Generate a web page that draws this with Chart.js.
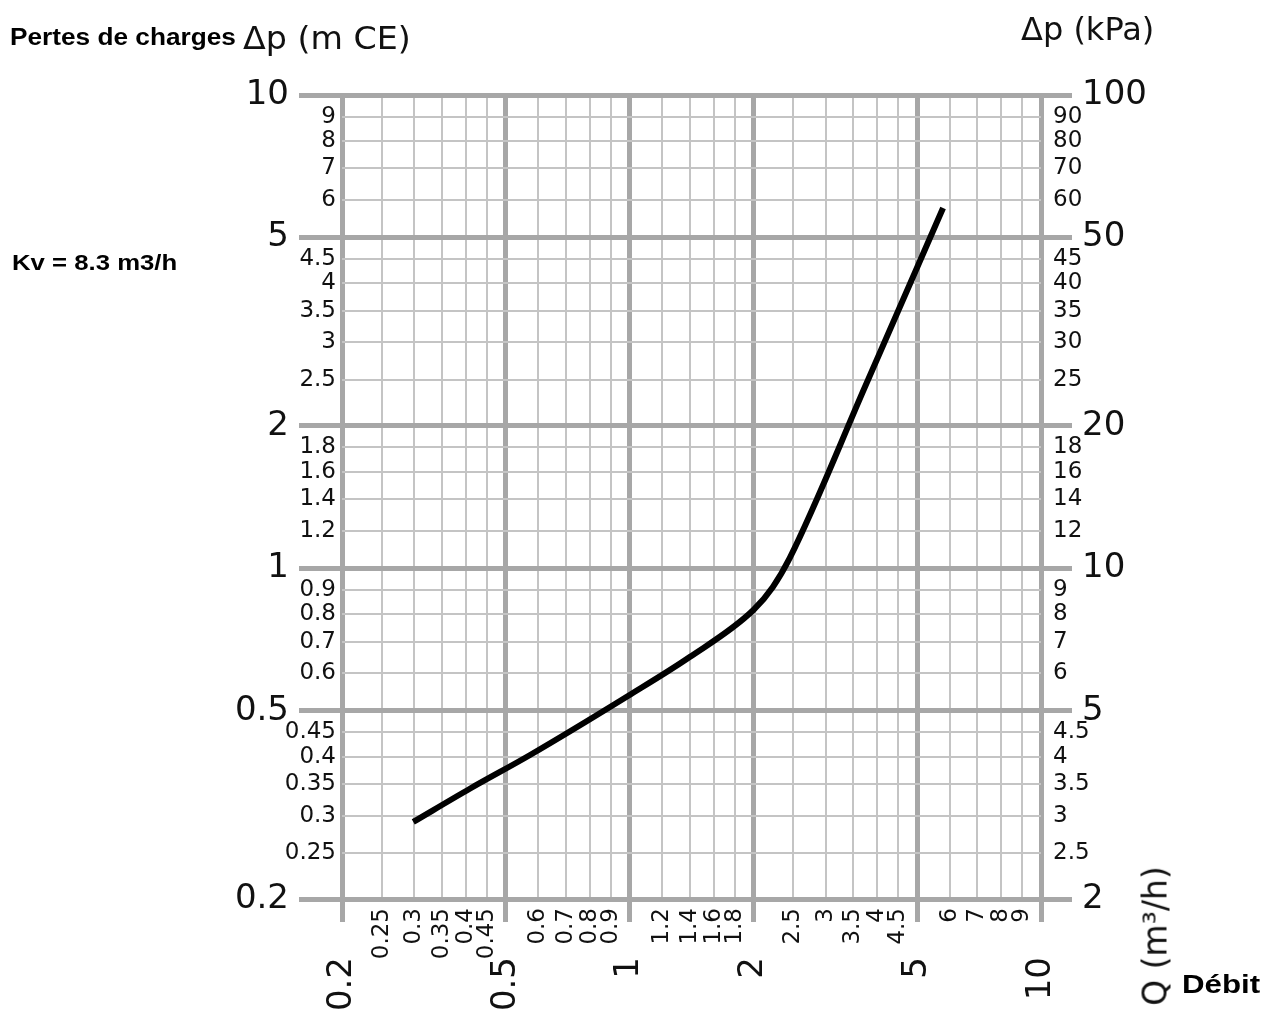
<!DOCTYPE html>
<html lang="fr">
<head>
<meta charset="utf-8">
<title>Pertes de charges - Kv 8.3</title>
<script src="https://cdn.jsdelivr.net/npm/chart.js@4.4.1/dist/chart.umd.min.js"></script>
<style>
    html, body { margin: 0; padding: 0; background: #fff; }
    #cadre { position: relative; width: 1264px; height: 1012px; overflow: hidden; }
    #abaque { position: absolute; left: 0; top: 0; }
    .txt { position: absolute; white-space: nowrap; color: #111; line-height: 1; transform-origin: 0 0; }
    .gras { font-family: "Liberation Sans", Arial, sans-serif; font-weight: bold; color: #000; }
    .geo { font-family: "DejaVu Sans", sans-serif; }
</style>
</head>
<body>
<div id="cadre">
    <canvas id="abaque" width="1264" height="1012"></canvas>
    <div class="txt gras" style="left:10px; top:26px; font-size:23px; transform:scaleX(1.14);">Pertes de charges</div>
    <div class="txt geo" style="left:243px; top:22px; font-size:32px; transform:scaleX(1.04);">Δp (m CE)</div>
    <div class="txt geo" style="left:1021px; top:13px; font-size:32px; transform:scaleX(1.0);">Δp (kPa)</div>
    <div class="txt gras" style="left:12px; top:252px; font-size:22px; transform:scaleX(1.17);">Kv = 8.3 m3/h</div>
    <div class="txt geo" style="left:1155px; top:936px; font-size:33px; transform:translate(-50%, -50%) rotate(-90deg); transform-origin:50% 50%;">Q (m³/h)</div>
    <div class="txt gras" style="left:1182px; top:972px; font-size:25px; transform:scaleX(1.25);">Débit</div>
</div>

<script>
const debit = [0.298, 0.409, 0.573, 0.991, 1.40, 2.00, 2.23, 2.45, 3.76, 5.78];
const perteCharge = [0.291, 0.342, 0.403, 0.537, 0.649, 0.816, 0.913, 1.05, 2.45, 5.77];

// Graduations des axes Q et Δp (m CE) : majeures = gros traits et grands chiffres
const gradMajeures = [0.2, 0.5, 1, 2, 5, 10];
const gradMineures = [0.25, 0.3, 0.35, 0.4, 0.45, 0.6, 0.7, 0.8, 0.9, 1.2, 1.4, 1.6, 1.8, 2.5, 3, 3.5, 4, 4.5, 6, 7, 8, 9];

// Graduations de l'axe Δp (kPa)
const gradKpaMajeures = [2, 5, 10, 20, 50, 100];
const gradKpaMineures = [2.5, 3, 3.5, 4, 4.5, 6, 7, 8, 9, 12, 14, 16, 18, 25, 30, 35, 40, 45, 60, 70, 80, 90];

const POLICE = '"DejaVu Sans", sans-serif';
const GRIS_FORT = '#a7a7a7';
const GRIS_FIN = '#c4c4c4';
const INVISIBLE = 'rgba(0,0,0,0)';

function estDans(liste, v) {
    return liste.some(m => Math.abs(m - v) < 1e-9);
}

// les chiffres débordent du cadre de l'axe : on enlève le découpage
function sansDecoupe(s) {
    s._computeLabelArea = () => null;
}

// Axe qui porte la grille, le prolongement des gros traits et les petits chiffres
function axeGrille(axe, position, min, max, majeures, mineures, longueurTrait, decalage, surGraphique) {
    const toutes = majeures.concat(mineures).sort((a, b) => a - b);
    const horizontal = axe === 'x';
    const majeure = c => c.tick && estDans(majeures, c.tick.value);
    return {
        type: 'logarithmic', axis: axe, position: position, weight: 0,
        min: min, max: max, bounds: 'data',
        afterBuildTicks: s => { s.ticks = toutes.map(v => ({ value: v })); },
        afterFit: s => {
            if (horizontal) s.height = longueurTrait; else s.width = longueurTrait;
            sansDecoupe(s);
        },
        border: { display: false },
        grid: {
            drawOnChartArea: surGraphique,
            color: c => majeure(c) ? GRIS_FORT : GRIS_FIN,
            lineWidth: c => majeure(c) ? 5 : 2,
            tickColor: c => majeure(c) ? GRIS_FORT : INVISIBLE,
            tickWidth: 5,
            tickLength: longueurTrait
        },
        ticks: {
            autoSkip: false,
            minRotation: horizontal ? 90 : 0,
            maxRotation: horizontal ? 90 : 0,
            padding: decalage,
            color: '#111',
            font: { family: POLICE, size: 23 },
            callback: v => estDans(majeures, v) ? '' : String(v)
        }
    };
}

// Axe qui ne porte que les grands chiffres des graduations majeures
function axeChiffres(axe, position, min, max, majeures, taille, espace) {
    const horizontal = axe === 'x';
    return {
        type: 'logarithmic', axis: axe, position: position, weight: 1,
        min: min, max: max, bounds: 'data',
        afterBuildTicks: s => { s.ticks = majeures.map(v => ({ value: v })); },
        afterFit: s => {
            if (horizontal) s.height = taille; else s.width = taille;
            sansDecoupe(s);
        },
        border: { display: false },
        grid: { display: false, drawTicks: false },
        ticks: {
            autoSkip: false,
            minRotation: horizontal ? 90 : 0,
            maxRotation: horizontal ? 90 : 0,
            padding: espace,
            color: '#111',
            font: { family: POLICE, size: 34 },
            callback: v => String(v)
        }
    };
}

const ctx = document.getElementById('abaque').getContext('2d');
new Chart(ctx, {
    type: 'line',
    data: {
        datasets: [{
            label: 'Kv = 8.3 m3/h',
            data: debit.map((q, i) => ({ x: q, y: perteCharge[i] })),
            xAxisID: 'x',
            yAxisID: 'y',
            borderColor: '#000',
            borderWidth: 6,
            borderCapStyle: 'butt',
            pointRadius: 0,
            fill: false,
            cubicInterpolationMode: 'monotone'
        }]
    },
    options: {
        responsive: false,
        animation: false,
        devicePixelRatio: 1,
        layout: { padding: { left: 242, right: 117, top: 95, bottom: 8 } },
        plugins: {
            legend: { display: false },
            tooltip: { enabled: false }
        },
        scales: {
            x: axeGrille('x', 'bottom', 0.2, 10, gradMajeures, gradMineures, 23, -14, true),
            xChiffres: axeChiffres('x', 'bottom', 0.2, 10, gradMajeures, 82, 35),
            y: axeGrille('y', 'left', 0.2, 10, gradMajeures, gradMineures, 43, -37, true),
            yChiffres: axeChiffres('y', 'left', 0.2, 10, gradMajeures, 57, 10),
            yKpa: axeGrille('y', 'right', 2, 100, gradKpaMajeures, gradKpaMineures, 31, -19, false),
            yKpaChiffres: axeChiffres('y', 'right', 2, 100, gradKpaMajeures, 75, 10)
        }
    }
});
</script>
</body>
</html>
